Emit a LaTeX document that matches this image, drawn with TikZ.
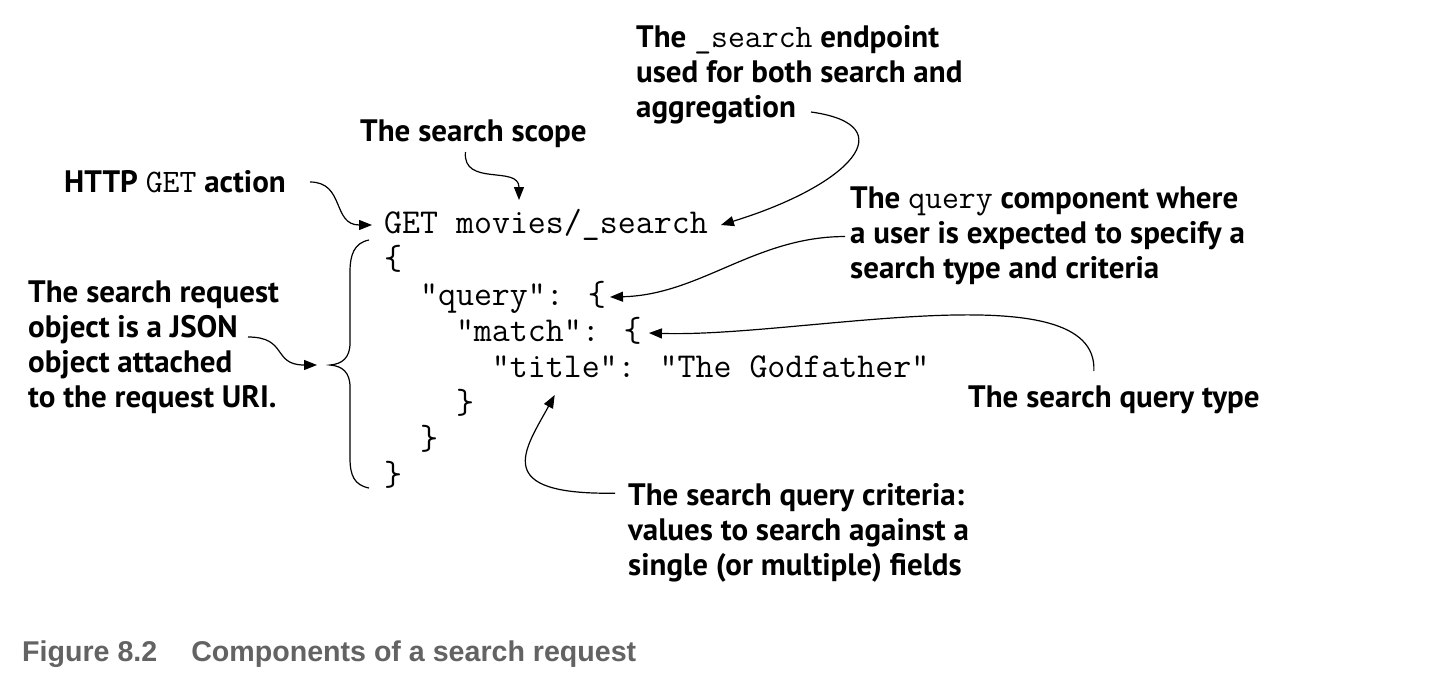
\documentclass[tikz,border=0pt]{standalone}
\usepackage{fontspec}
\newfontfamily\lblfont{PT Sans}
\newfontfamily\capfont{Liberation Sans}
\usepackage{tikz}
\usetikzlibrary{arrows.meta,calc}
\definecolor{capgray}{HTML}{636363}
\newcommand\kw[1]{{\mdseries\ttfamily\fontsize{32.8}{34.8}\selectfont #1}}

\begin{document}
\begin{tikzpicture}[x=1pt,y={(0,-1pt)},
	lbl/.style={anchor=base west,inner sep=0pt,align=left,font={\lblfont\bfseries\fontsize{31}{34.8}\selectfont}},
	code/.style={anchor=base west,inner sep=0pt,font={\ttfamily\fontsize{34.9}{36}\selectfont}},
	link/.style={line width=1.2pt,-{Triangle[length=13pt,width=10pt]}}]
	\path[use as bounding box,fill=white] (0,0) rectangle (1444,686);
	% the request
	\node[code] (get) at (384,233) {GET movies/\_search};
	\node[code] (open) at (384,269) {\{};
	\node[code] (query) at (419.9,305) {"query": \{};
	\node[code] (match) at (455.8,341) {"match": \{};
	\node[code] (title) at (491.7,377) {"title": "The Godfather"};
	\node[code] (close3) at (455.8,413) {\}};
	\node[code] (close2) at (419.9,449) {\}};
	\node[code] (close1) at (384,485) {\}};
	\coordinate (bracetip) at (330,365);
	\draw[line width=1.2pt] (369,240) .. controls (354,243) and (350,255) .. (350,272) -- (350,343)
		.. controls (350,358) and (342,364) .. (bracetip) .. controls (342,366) and (350,372) .. (350,387)
		-- (350,458) .. controls (350,475) and (354,485) .. (369,488);
	% callouts
	\node[lbl] (http) at (64,192) {HTTP \kw{GET} action};
	\node[lbl] (scope) at (360,141) {The search scope};
	\node[lbl] (endpoint) at (636,117) {The \kw{\_search} endpoint\\used for both search and\\aggregation};
	\node[lbl] (querycomp) at (850,278) {The \kw{query} component where\\a user is expected to specify a\\search type and criteria};
	\node[lbl] (qtype) at (968,407) {The search query type};
	\node[lbl] (criteria) at (628,575) {The search query criteria:\\values to search against a\\single (or multiple) fields};
	\node[lbl] (reqobj) at (28,407) {The search request\\object is a JSON\\object attached\\to the request URI.};
	\draw[link] ($(http.base east)+(24,-10)$) .. controls +(35,0) and +(-40,0) .. ($(get.base west)+(-12,-8)$);
	\draw[link] ($(scope.base)+(-8,11)$) .. controls +(-3,35) and +(0,-35) .. ($(get.base west)+(135,-33)$);
	\draw[link] ($(endpoint.base west)+(175,-5)$) .. controls +(94,13) and +(130,-40) .. ($(get.base east)+(13,-8)$);
	\draw[link] ($(querycomp.west)+(-5,1)$) .. controls +(-90,0) and +(90,-2) .. ($(query.base east)+(4,-8)$);
	\draw[link] ($(qtype.north)+(-20,-14)$) .. controls +(5,-102) and +(150,5) .. ($(match.base east)+(7,-8)$);
	\draw[link] ($(criteria.north west)+(-13,10)$) .. controls +(-125,2) and +(-30,55) .. ($(title.base west)+(63,18)$);
	\draw[link] ($(reqobj.base west)+(220,-70)$) .. controls +(40,0) and +(-45,0) .. ($(bracetip)+(-13,0)$);
	% caption
	\node[anchor=base west,inner sep=0pt,text=capgray,font={\capfont\bfseries\fontsize{28.6}{30}\selectfont}] (caption) at (22,661) {Figure 8.2\hspace{34pt}Components of a search request};
\end{tikzpicture}
\end{document}
